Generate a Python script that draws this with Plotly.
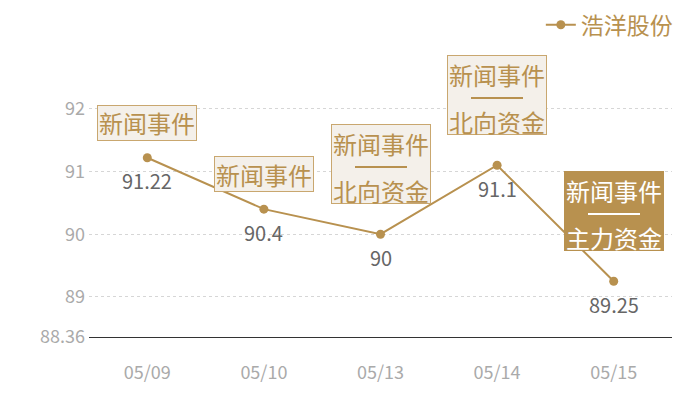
import plotly.graph_objects as go

# 数据
dates = ["05/09", "05/10", "05/13", "05/14", "05/15"]
prices = [91.22, 90.4, 90, 91.1, 89.25]
event_top = ["新闻事件", "新闻事件", "新闻事件", "新闻事件", "新闻事件"]
event_bottom = ["", "", "北向资金", "北向资金", "主力资金"]
highlight = [False, False, False, False, True]
y_ticks = [88.36, 89, 90, 91, 92, 92.12]
y_ticktext = ["88.36", "89", "90", "91", "92", ""]
series_name = "浩洋股份"

gold = "#b8914f"
font_cn = "Noto Sans CJK SC"

fig = go.Figure(go.Scatter(
    x=dates, y=prices, name=series_name,
    mode="lines+markers",
    line=dict(color=gold, width=2),
    marker=dict(color=gold, size=9),
    hoverinfo="skip",
))

# 数值标签（点下方）
for d, p in zip(dates, prices):
    fig.add_annotation(x=d, y=p, text=str(p), showarrow=False, yshift=-23,
                       font=dict(size=20, color="#666666", family=font_cn))

# 事件标注框（用注释画框，避免被绘图区裁掉）
for d, p, top, bottom, hl in zip(dates, prices, event_top, event_bottom, highlight):
    fill = gold if hl else "#f4f0ea"
    edge = gold if hl else "#c9a76f"
    tc = "white" if hl else gold
    if bottom:
        y0, y1 = 30, 110
        lines = [(top, 90.5), (bottom, 44)]
    else:
        y0, y1 = 17, 53
        lines = [(top, 35)]
    # 框
    fig.add_annotation(x=d, y=p, text=" ", showarrow=False, yanchor="bottom",
                       yshift=y0, width=98, height=y1 - y0 - 2, borderpad=0,
                       bgcolor=fill, bordercolor=edge, borderwidth=1,
                       font=dict(size=10))
    for t, off in lines:
        fig.add_annotation(x=d, y=p, text=t, showarrow=False, yshift=off,
                           font=dict(size=24, color=tc, family=font_cn))
    # 分隔线
    if bottom:
        fig.add_annotation(x=d, y=p, text=" ", showarrow=False, yshift=67,
                           width=52, height=1.5, borderpad=0, borderwidth=0,
                           bgcolor=tc, font=dict(size=1))

fig.update_layout(
    width=700, height=400,
    margin=dict(l=81, r=36, t=93, b=71),
    plot_bgcolor="white", paper_bgcolor="white",
    font=dict(family=font_cn),
    showlegend=True,
    legend=dict(orientation="h", x=1.01, xanchor="right", y=0.958, yanchor="middle",
                yref="container", font=dict(size=23, color=gold),
                itemwidth=30),
    xaxis=dict(
        type="category", range=[-0.5, 4.5], showgrid=False,
        showline=True, linecolor="#333333", linewidth=1,
        tickfont=dict(size=18, color="#aaaaaa"),
        ticklabelstandoff=19, zeroline=False, automargin=False,
    ),
    yaxis=dict(
        range=[88.36, 92.125], tickvals=y_ticks, ticktext=y_ticktext,
        showgrid=True, gridcolor="#d6d6d6", griddash="dot", gridwidth=1,
        tickfont=dict(size=18, color="#aaaaaa"), zeroline=False,
        showline=False, automargin=False, ticklabelstandoff=3,
    ),
)

fig.write_html("out.html")
